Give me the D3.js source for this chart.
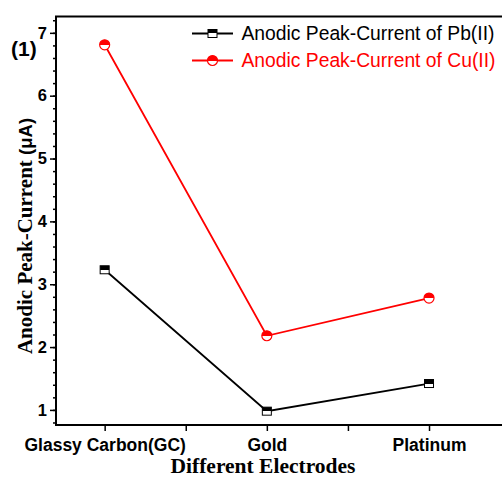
<!DOCTYPE html>
<html>
<head>
<meta charset="utf-8">
<script src="https://cdn.jsdelivr.net/npm/d3@7"></script>
<style>
  html, body { margin: 0; padding: 0; background: #fff; }
  svg { display: block; }
</style>
</head>
<body>
<svg id="chart" width="502" height="477"></svg>
<script>
// Electrode categories and anodic peak currents (µA)
const electrodes = ["Glassy Carbon(GC)", "Gold", "Platinum"];
const pbCurrent = [3.23, 0.98, 1.42];
const cuCurrent = [6.81, 2.18, 2.78];
const yTickValues = [1, 2, 3, 4, 5, 6, 7];
const seriesNames = ["Anodic Peak-Current of Pb(II)", "Anodic Peak-Current of Cu(II)"];

const svg = d3.select("#chart");
const plotLeft = 56, plotRight = 502, plotTop = 16.5, plotBottom = 425;

const x = d3.scaleLinear().domain([0.7, 3.45]).range([plotLeft, plotRight]);
const y = d3.scaleLinear().domain([0.76, 7.26]).range([plotBottom, plotTop]);

// half-filled square / circle markers
const defs = svg.append("defs");
function halfGrad(id, color) {
  const g = defs.append("linearGradient").attr("id", id)
    .attr("x1", 0).attr("y1", 0).attr("x2", 0).attr("y2", 1);
  g.append("stop").attr("offset", "50%").attr("stop-color", color);
  g.append("stop").attr("offset", "50%").attr("stop-color", "#fff");
}
halfGrad("halfBlack", "#000");
halfGrad("halfRed", "#ff0000");

// Y axis: minor then major ticks
const yMinor = d3.range(0.8, 7.3, 0.2).map(v => +v.toFixed(1));
svg.append("g")
  .attr("transform", `translate(${plotLeft},0)`)
  .call(d3.axisLeft(y).tickValues(yMinor).tickSize(3).tickFormat(""))
  .call(g => g.select(".domain").remove())
  .call(g => g.selectAll("line").attr("stroke-width", 1.5));

svg.append("g")
  .attr("transform", `translate(${plotLeft},0)`)
  .call(d3.axisLeft(y).tickValues(yTickValues).tickSize(6).tickPadding(3).tickFormat(d3.format("d")))
  .call(g => g.select(".domain").remove())
  .call(g => g.selectAll("line").attr("stroke-width", 1.5))
  .call(g => g.selectAll("text")
    .attr("font-family", "Liberation Sans, Arial, sans-serif")
    .attr("font-weight", "bold").attr("font-size", 16.5).attr("fill", "#000"));

// X axis
svg.append("g")
  .attr("transform", `translate(0,${plotBottom})`)
  .call(d3.axisBottom(x).tickValues([1, 1.5, 2, 2.5, 3]).tickSize(6).tickPadding(8)
    .tickFormat(d => Number.isInteger(d) ? electrodes[d - 1] : ""))
  .call(g => g.select(".domain").remove())
  .call(g => g.selectAll("line").attr("stroke-width", 1.5))
  .call(g => g.selectAll("text")
    .attr("font-family", "Liberation Sans, Arial, sans-serif")
    .attr("font-weight", "bold").attr("font-size", 17.5).attr("fill", "#000"));

// frame lines: left, top, bottom
svg.append("path")
  .attr("d", `M${plotRight},${plotTop}H${plotLeft}V${plotBottom}H${plotRight}`)
  .attr("fill", "none").attr("stroke", "#000").attr("stroke-width", 2);

// Series
const line = d3.line().x((d, i) => x(i + 1)).y(d => y(d));

svg.append("path").datum(pbCurrent).attr("d", line)
  .attr("fill", "none").attr("stroke", "#000").attr("stroke-width", 1.8);
svg.append("path").datum(cuCurrent).attr("d", line)
  .attr("fill", "none").attr("stroke", "#ff0000").attr("stroke-width", 1.8);

svg.selectAll(".pb").data(pbCurrent).join("rect")
  .attr("x", (d, i) => x(i + 1) - 4.5).attr("y", d => y(d) - 4)
  .attr("width", 9).attr("height", 8)
  .attr("fill", "url(#halfBlack)").attr("stroke", "#000").attr("stroke-width", 1);

svg.selectAll(".cu").data(cuCurrent).join("circle")
  .attr("cx", (d, i) => x(i + 1)).attr("cy", d => y(d)).attr("r", 5)
  .attr("fill", "url(#halfRed)").attr("stroke", "#ff0000").attr("stroke-width", 1.2);

// Legend
const legend = svg.append("g");
const legendColors = ["#000", "#ff0000"];
seriesNames.forEach((name, i) => {
  const ly = 33.5 + i * 27;
  legend.append("line").attr("x1", 192).attr("x2", 233).attr("y1", ly).attr("y2", ly)
    .attr("stroke", legendColors[i]).attr("stroke-width", 1.8);
  if (i === 0) {
    legend.append("rect").attr("x", 208).attr("y", ly - 4).attr("width", 9).attr("height", 8)
      .attr("fill", "url(#halfBlack)").attr("stroke", "#000").attr("stroke-width", 1);
  } else {
    legend.append("circle").attr("cx", 212.5).attr("cy", ly).attr("r", 5)
      .attr("fill", "url(#halfRed)").attr("stroke", "#ff0000").attr("stroke-width", 1.2);
  }
  legend.append("text").attr("x", 241.5).attr("y", ly + 6.5)
    .attr("font-family", "Liberation Sans, Arial, sans-serif").attr("font-size", 19.3)
    .attr("fill", legendColors[i]).text(name);
});

// Axis titles
svg.append("text").attr("x", 263).attr("y", 473)
  .attr("text-anchor", "middle")
  .attr("font-family", "Liberation Serif, Times New Roman, serif")
  .attr("font-weight", "bold").attr("font-size", 21.5).text("Different Electrodes");

const yTitle = svg.append("text")
  .attr("transform", "translate(32,236) rotate(-90)")
  .attr("text-anchor", "middle")
  .attr("font-weight", "bold");
yTitle.append("tspan").attr("font-family", "Liberation Serif, Times New Roman, serif")
  .attr("font-size", 21).text("Anodic Peak-Current ");
yTitle.append("tspan").attr("font-family", "Liberation Sans, Arial, sans-serif")
  .attr("font-size", 18.5).text("(μA)");

// Panel label
svg.append("text").attr("x", 11).attr("y", 56)
  .attr("font-family", "Liberation Sans, Arial, sans-serif")
  .attr("font-weight", "bold").attr("font-size", 21).text("(1)");
</script>
</body>
</html>
